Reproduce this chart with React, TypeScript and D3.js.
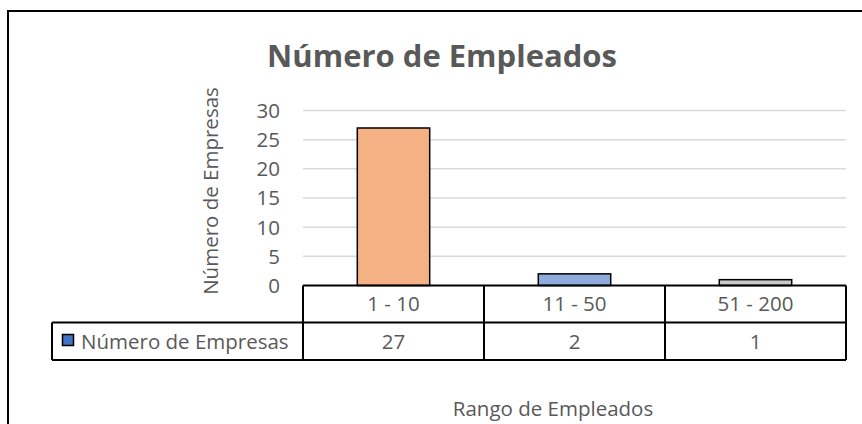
import React from "react";
import * as d3 from "d3";

const categories = ["1 - 10", "11 - 50", "51 - 200"];
const values = [27, 2, 1];
const barColors = ["#F4B183", "#8FAADC", "#C9C9C9"];
const yTicks = [0, 5, 10, 15, 20, 25, 30];
const seriesName = "Número de Empresas";
const chartTitle = "Número de Empleados";
const xTitle = "Rango de Empleados";
const yTitle = "Número de Empresas";

const W = 862;
const H = 424;
const FONT = "'Open Sans', 'DejaVu Sans', sans-serif";
const TXT = "#595959";

export default function App() {
  const plotLeft = 303;
  const plotRight = 846;
  const plotTop = 110.5;
  const plotBottom = 285.5;
  const rowMid = 322.5;
  const tableBottom = 360;
  const legendLeft = 52;

  const x = d3
    .scaleBand<string>()
    .domain(categories)
    .range([plotLeft, plotRight])
    .paddingInner(0.6)
    .paddingOuter(0.3);
  const xCell = d3.scaleBand<string>().domain(categories).range([plotLeft, plotRight]);
  const y = d3.scaleLinear().domain([0, 30]).range([plotBottom, plotTop]);

  return (
    <svg
      width={W}
      height={H}
      style={{ position: "absolute", left: 0, top: 0, background: "#fff" }}
      fontFamily={FONT}
    >
      <rect x={0} y={0} width={W} height={H} fill="#fff" />
      {/* outer chart border */}
      <rect x={8} y={11} width={W + 20} height={H + 20} fill="none" stroke="#000" strokeWidth={2} />

      {/* title */}
      <text x={442} y={67} textAnchor="middle" fontSize={31} fontWeight="bold" fill={TXT}>
        {chartTitle}
      </text>

      {/* gridlines */}
      {yTicks.filter((t) => t > 0).map((t) => (
        <line key={t} x1={plotLeft} x2={plotRight} y1={y(t)} y2={y(t)} stroke="#D9D9D9" strokeWidth={1.5} />
      ))}

      {/* y tick labels */}
      {yTicks.map((t) => (
        <text key={t} x={280} y={y(t)} dy="0.36em" textAnchor="end" fontSize={20.5} fill={TXT}>
          {t}
        </text>
      ))}

      {/* y title */}
      <text
        transform={`translate(218, 191) rotate(-90)`}
        textAnchor="middle"
        fontSize={20.5}
        fill={TXT}
      >
        {yTitle}
      </text>

      {/* bars */}
      {categories.map((c, i) => (
        <rect
          key={c}
          x={x(c)}
          y={y(values[i])}
          width={x.bandwidth()}
          height={plotBottom - y(values[i])}
          fill={barColors[i]}
          stroke="#000"
          strokeWidth={1.5}
        />
      ))}

      {/* data table */}
      <g stroke="#000" strokeWidth={2} fill="none">
        <line x1={plotLeft} x2={plotRight} y1={plotBottom} y2={plotBottom} />
        <line x1={legendLeft} x2={plotRight} y1={rowMid} y2={rowMid} />
        <line x1={legendLeft} x2={plotRight} y1={tableBottom} y2={tableBottom} />
        <line x1={legendLeft} x2={legendLeft} y1={rowMid} y2={tableBottom} />
        {categories.map((c) => (
          <line key={c} x1={xCell(c)} x2={xCell(c)} y1={plotBottom} y2={tableBottom} />
        ))}
        <line x1={plotRight} x2={plotRight} y1={plotBottom} y2={tableBottom} />
      </g>
      {categories.map((c, i) => (
        <g key={c}>
          <text
            x={(xCell(c) as number) + xCell.bandwidth() / 2}
            y={(plotBottom + rowMid) / 2}
            dy="0.36em"
            textAnchor="middle"
            fontSize={20.5}
            fill={TXT}
          >
            {c}
          </text>
          <text
            x={(xCell(c) as number) + xCell.bandwidth() / 2}
            y={(rowMid + tableBottom) / 2}
            dy="0.36em"
            textAnchor="middle"
            fontSize={20.5}
            fill={TXT}
          >
            {values[i]}
          </text>
        </g>
      ))}
      {/* legend key */}
      <rect x={62.5} y={334.5} width={11} height={11} fill="#4472C4" stroke="#000" strokeWidth={1.5} />
      <text x={81} y={(rowMid + tableBottom) / 2} dy="0.36em" fontSize={20.5} fill={TXT}>
        {seriesName}
      </text>

      {/* x title */}
      <text x={553} y={416} textAnchor="middle" fontSize={20.5} fill={TXT}>
        {xTitle}
      </text>
    </svg>
  );
}
